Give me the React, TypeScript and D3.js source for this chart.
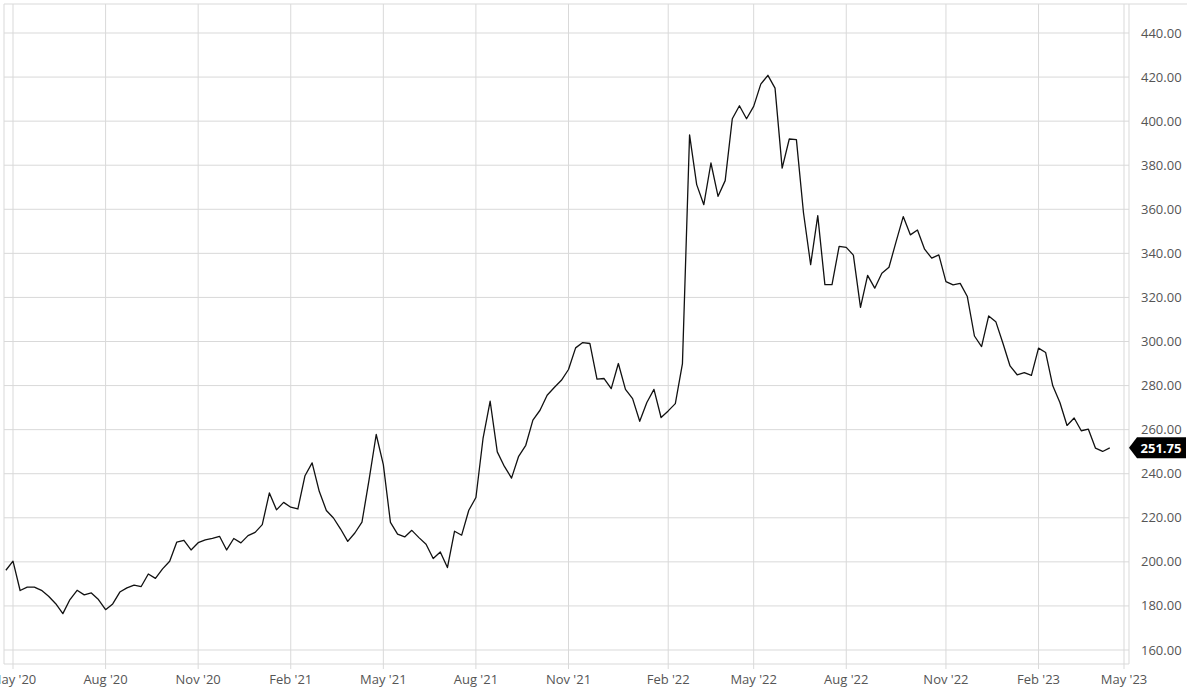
import React from "react";
import * as d3 from "d3";

// Weekly closes (Mondays), starting 2020-04-27
const startDate = "2020-04-27";
const closes: number[] = [
  196.2, 200.3, 187, 188.5, 188.5, 187.1, 184.4, 181, 176.5, 182.9,
  187.1, 185, 185.9, 182.9, 178.3, 180.9, 186.3, 188.2, 189.4, 188.8,
  194.5, 192.5, 196.8, 200.3, 209, 209.8, 205.4, 208.7, 210, 210.7,
  211.6, 205.4, 210.6, 208.6, 211.9, 213.4, 216.9, 231.3, 223.6, 227,
  224.8, 224, 239.1, 244.9, 232, 223.3, 219.9, 214.9, 209.3, 213.1,
  218, 237.3, 257.8, 244.1, 217.9, 212.6, 211.3, 214.3, 211, 208,
  201.5, 204.5, 197.4, 213.9, 212.1, 223.4, 229.2, 256, 272.9, 249.9,
  243.3, 238, 247.9, 252.9, 264.3, 268.8, 275.6, 279.1, 282.4, 287.3,
  297.1, 299.5, 299.1, 282.9, 283.2, 278.6, 290, 278.3, 274.1, 263.8,
  272.3, 278.3, 265.5, 268.5, 271.8, 290, 393.8, 371.2, 362.1, 381,
  365.9, 373, 401.1, 407, 401.1, 406.7, 416.8, 420.8, 415, 378.7,
  391.9, 391.6, 358.3, 334.9, 357.1, 325.8, 325.8, 343.2, 342.7, 339.2,
  315.5, 330, 324.2, 331, 333.7, 345.3, 356.7, 348.4, 350.6, 341.9,
  337.8, 339.3, 327.2, 325.7, 326.4, 320.4, 302.5, 297.7, 311.6, 309,
  299.2, 288.9, 284.9, 285.9, 284.6, 297, 295, 279.9, 272.3, 261.9,
  265.3, 259.5, 260.2, 251.6, 250.1, 251.75,
];
const lastLabel = "251.75";

// Tick months (quarterly), labels like "May '20"
const tickMonths: string[] = [
  "2020-05", "2020-08", "2020-11", "2021-02", "2021-05", "2021-08", "2021-11",
  "2022-02", "2022-05", "2022-08", "2022-11", "2023-02", "2023-05",
];
const yTicks: number[] = [160, 180, 200, 220, 240, 260, 280, 300, 320, 340, 360, 380, 400, 420, 440];

const W = 1200;
const H = 697;
const left = 4, top = 4, right = 1129, bottom = 664;
const FONT = "'Open Sans', 'Noto Sans', sans-serif";
const GRID = "#d9d9d9";
const TXT = "#555";

function parseDay(s: string) {
  const [y, m, d] = s.split("-").map(Number);
  return new Date(y, m - 1, d);
}

export default function App() {
  const start = parseDay(startDate);
  const data = closes.map((v, i) => ({ date: d3.timeWeek.offset(start, i), v }));

  const x = d3.scaleTime().domain([new Date(2020, 4, 4), new Date(2023, 4, 1)]).range([13, 1124]);
  const y = d3.scaleLinear().domain([160, 440]).range([650, 33]);

  const ticks = tickMonths.map((s) => {
    const [yy, mm] = s.split("-").map(Number);
    const monthStart = new Date(yy, mm - 1, 1);
    return { date: d3.timeMonday.ceil(monthStart), label: d3.timeFormat("%b '%y")(monthStart) };
  });

  const line = d3
    .line<{ date: Date; v: number }>()
    .x((d) => x(d.date))
    .y((d) => y(d.v));

  const last = data[data.length - 1];
  const ly = y(last.v);
  const tagPath = `M${right},${ly} L${right + 8},${ly - 10.5} L1186,${ly - 10.5} L1186,${ly + 10.5} L${right + 8},${ly + 10.5} Z`;

  return (
    <svg width={W} height={H} style={{ position: "absolute", left: 0, top: 0, background: "#fff" }} fontFamily={FONT}>
      {/* horizontal grid */}
      {yTicks.map((t) => (
        <line key={"h" + t} x1={left} x2={right} y1={y(t)} y2={y(t)} stroke={GRID} strokeWidth={1} />
      ))}
      {/* vertical grid + ticks */}
      {ticks.map((t) => (
        <line key={"v" + t.label} x1={x(t.date)} x2={x(t.date)} y1={top} y2={bottom + 5} stroke={GRID} strokeWidth={1} />
      ))}
      {/* frame */}
      <line x1={left} x2={1187} y1={top} y2={top} stroke={GRID} strokeWidth={1} />
      <line x1={left} x2={left} y1={top} y2={bottom} stroke={GRID} strokeWidth={1} />
      <line x1={right} x2={right} y1={top} y2={bottom} stroke={GRID} strokeWidth={1} />
      <line x1={left} x2={right} y1={bottom} y2={bottom} stroke={GRID} strokeWidth={1} />
      {/* y labels */}
      {yTicks.map((t) => (
        <text key={"yl" + t} x={1141} y={y(t)} dy="0.35em" fontSize={13} fill={TXT}>
          {t.toFixed(2)}
        </text>
      ))}
      {/* x labels */}
      {ticks.map((t) => (
        <text key={"xl" + t.label} x={x(t.date)} y={684} textAnchor="middle" fontSize={13} fill={TXT}>
          {t.label}
        </text>
      ))}
      {/* price line */}
      <path d={line(data) || ""} fill="none" stroke="#111" strokeWidth={1.3} strokeLinejoin="round" />
      {/* last value tag */}
      <path d={tagPath} fill="#000" />
      <text x={1161} y={ly} dy="0.36em" textAnchor="middle" fontSize={13} fontWeight="bold" fill="#fff">
        {lastLabel}
      </text>
    </svg>
  );
}
